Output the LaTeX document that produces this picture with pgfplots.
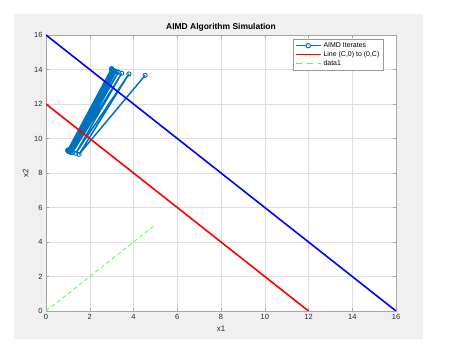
\documentclass[border=0pt]{standalone}
\usepackage{pgfplots}
\pgfplotsset{compat=1.18}
\usepackage{fontspec}
\setmainfont{Liberation Sans}
\definecolor{mblue}{rgb}{0,0.447,0.741}
\definecolor{figgray}{rgb}{0.94,0.94,0.94}
\definecolor{tickc}{rgb}{0.15,0.15,0.15}
\definecolor{mgreen}{rgb}{0.3,1,0.3}
\begin{document}
\begin{tikzpicture}
\fill[white] (-46bp,-44bp) rectangle (412bp,311bp);
\fill[figgray] (-32bp,-28bp) rectangle (377bp,297bp);
\begin{axis}[
  at={(0,0)}, anchor=south west,
  scale only axis, width=350bp, height=276bp,
  xmin=0, xmax=16, ymin=0, ymax=16,
  xtick={0,2,...,16}, ytick={0,2,...,16},
  grid=major,
  grid style={draw=black!13, line width=0.4pt},
  axis line style={draw=black!35, line width=0.5pt},
  tick style={draw=black!35},
  tick align=inside, major tick length=3bp,
  axis background/.style={fill=white},
  ticklabel style={font=\fontsize{7.5}{8}\selectfont, text=tickc},
  /pgf/number format/assume math mode=true,
  xlabel={x1}, ylabel={x2},
  label style={font=\fontsize{8}{9}\selectfont, text=tickc},
  xlabel style={yshift=1bp},
  ylabel style={yshift=-1bp},
  title={AIMD Algorithm Simulation},
  title style={font=\bfseries\fontsize{8.5}{9}\selectfont, yshift=-6bp},
  legend style={at={(0.963,0.986)}, anchor=north east, font=\fontsize{7}{8}\selectfont,
    draw=black!40, fill=white, inner sep=1.5bp, row sep=-1.5bp},
  legend cell align=left,
]
\addlegendimage{legend image code/.code={%
  \draw[draw=mblue, line width=1.6pt] (0bp,0bp) -- (25bp,0bp);
  \draw[draw=mblue, line width=1pt, fill=white] (12.5bp,0bp) circle (2.2pt);}}
\addlegendentry{AIMD Iterates}
\addlegendimage{legend image code/.code={%
  \draw[draw=red, line width=1.6pt] (0bp,0bp) -- (25bp,0bp);}}
\addlegendentry{Line (C,0) to (0,C)}
\addlegendimage{legend image code/.code={%
  \draw[draw=mgreen, line width=1.1pt, dash pattern=on 6bp off 5bp] (0bp,0bp) -- (25bp,0bp);}}
\addlegendentry{data1}
\addplot[forget plot, color=mblue, line width=1.5pt, mark=o, mark size=2.1pt, mark options={solid, line width=0.9pt}] coordinates {
(4.53,13.66) (1.51,9.08)
(3.79,13.74) (1.36,9.14)
(3.46,13.78) (1.20,9.17)
(3.31,13.84) (1.12,9.20)
(3.21,13.88) (1.07,9.23)
(3.14,13.91) (1.04,9.25)
(3.09,13.94) (1.03,9.27)
(3.06,13.96) (1.02,9.28)
(3.04,13.97) (1.01,9.29)
(3.03,13.98) (1.01,9.30)
(3.02,13.99) (1.00,9.31)
(3.01,14.00) (1.00,9.32)
(3.00,14.03) (1.00,9.33)
(3.00,14.05)
};
\addplot[forget plot, color=red, line width=1.6pt] coordinates {(12,0) (0,12)};
\addplot[forget plot, color=mgreen, line width=0.8pt, dash pattern=on 4bp off 3bp] coordinates {(0,0) (5,5)};
\addplot[forget plot, color=blue, line width=1.6pt] coordinates {(16,0) (0,16)};
\end{axis}
\end{tikzpicture}
\end{document}
